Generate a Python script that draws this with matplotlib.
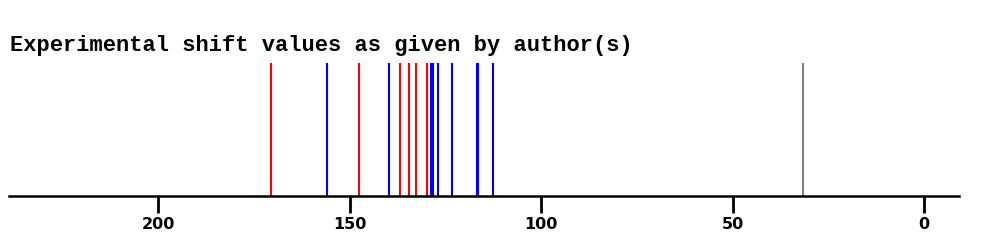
import matplotlib
matplotlib.use("Agg")
import matplotlib.pyplot as plt

# shift values (ppm)
red_shifts = [170.6, 147.6, 136.9, 134.5, 132.7, 129.9]
blue_shifts = [156.0, 139.7, 128.8, 128.3, 127.0, 123.2, 116.7, 116.4, 112.6]
gray_shifts = [31.6]
tick_values = [200, 150, 100, 50, 0]

fig = plt.figure(figsize=(9.93, 2.49), dpi=100)
ax = fig.add_axes([9 / 993, 1 - 196 / 249, 950 / 993, 133 / 249])

ax.vlines(red_shifts, 0, 1, color="#ff0000", linewidth=1.5)
ax.vlines(blue_shifts, 0, 1, color="#0000ff", linewidth=1.5)
ax.vlines(gray_shifts, 0, 1, color="#808080", linewidth=1.5)

ax.set_xlim(239, -9.1)
ax.set_ylim(0, 1)

for side in ["top", "left", "right"]:
    ax.spines[side].set_visible(False)
ax.spines["bottom"].set_linewidth(1.8)
ax.spines["bottom"].set_color("black")

ax.set_yticks([])
ax.set_xticks(tick_values)
ax.set_xticklabels([str(t) for t in tick_values])
ax.tick_params(axis="x", direction="out", length=12, width=2, pad=3,
               labelsize=11.5)
for lab in ax.get_xticklabels():
    lab.set_fontweight("bold")
    lab.set_family("DejaVu Sans")

fig.text(10 / 993, 1 - 45 / 249, "Experimental shift values as given by author(s)",
         family="Liberation Mono", fontweight="bold", fontsize=15.8,
         ha="left", va="center")

fig.savefig("out.png", dpi=100)
